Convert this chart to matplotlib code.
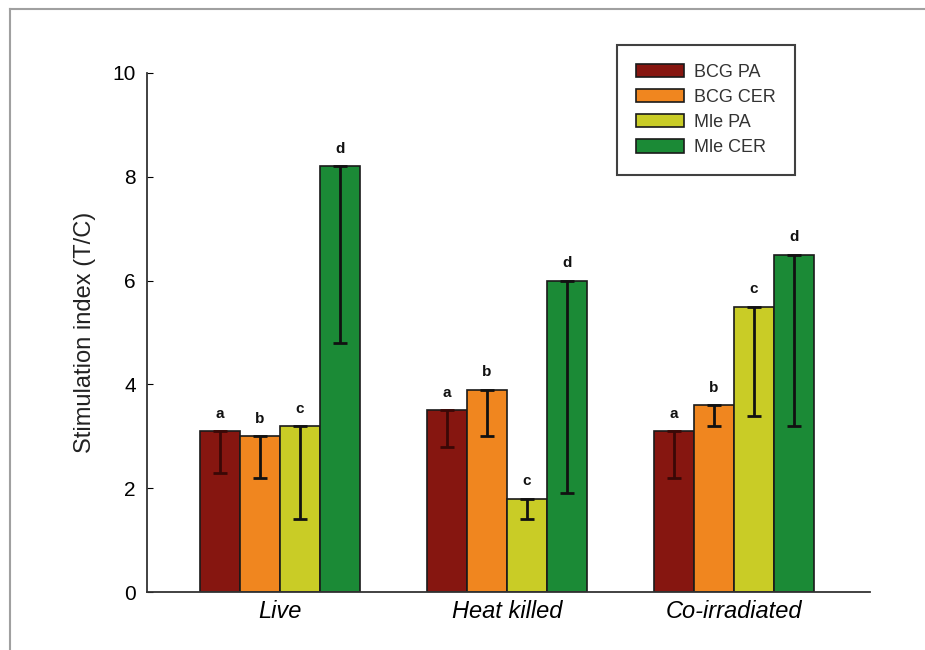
import matplotlib
matplotlib.use("Agg")
import matplotlib.pyplot as plt
import numpy as np
from matplotlib.lines import Line2D

plt.rcParams["font.family"] = ["Liberation Sans", "DejaVu Sans"]

# ── Data ──────────────────────────────────────────────────────────────────────
groups = ["Live", "Heat killed", "Co-irradiated"]
series = ["BCG PA", "BCG CER", "Mle PA", "Mle CER"]
letters = ["a", "b", "c", "d"]
colors = ["#861610", "#f0861f", "#c9cc26", "#1b8a36"]

# mean stimulation index per series, one value per group
means = {
    "BCG PA":  [3.1, 3.5, 3.1],
    "BCG CER": [3.0, 3.9, 3.6],
    "Mle PA":  [3.2, 1.8, 5.5],
    "Mle CER": [8.2, 6.0, 6.5],
}
# error bars are drawn downwards only
err_low = {
    "BCG PA":  [0.8, 0.7, 0.9],
    "BCG CER": [0.8, 0.9, 0.4],
    "Mle PA":  [1.8, 0.4, 2.1],
    "Mle CER": [3.4, 4.1, 3.3],
}

# ── Plot ──────────────────────────────────────────────────────────────────────
fig = plt.figure(figsize=(9.25, 6.5), dpi=100)
ax = fig.add_axes([0.159, 0.0892, 0.7815, 0.7985])

x = np.arange(len(groups))
width = 0.176
offsets = (np.arange(len(series)) - 1.5) * width

for i, name in enumerate(series):
    xs = x + offsets[i]
    vals = means[name]
    ax.bar(xs, vals, width, color=colors[i], edgecolor="#1a1a1a",
           linewidth=1.2, label=name, zorder=2)
    ecol = "#3a0806" if i == 0 else "#111111"
    ax.errorbar(xs, vals, yerr=[err_low[name], [0] * len(vals)], fmt="none",
                ecolor=ecol, elinewidth=2, capsize=5, capthick=2, zorder=3)
    for xi, v in zip(xs, vals):
        ax.text(xi, v + 0.2, letters[i], ha="center", va="bottom",
                fontsize=11, fontweight="bold", color="#111111")

ax.set_xlim(-0.586, 2.6)
ax.set_ylim(0, 10)
ax.set_yticks(range(0, 11, 2))
ax.set_xticks(x)
ax.set_xticklabels(groups, fontsize=17, style="italic")
ax.tick_params(axis="y", direction="in", length=4, labelsize=15, pad=8)
ax.tick_params(axis="x", length=0, pad=6)
ax.set_ylabel("Stimulation index (T/C)", fontsize=17, labelpad=12,
              color="#222222")
for side in ["top", "right"]:
    ax.spines[side].set_visible(False)
for side in ["left", "bottom"]:
    ax.spines[side].set_linewidth(1.3)
    ax.spines[side].set_color("#333333")

leg = ax.legend(loc="upper left", bbox_to_anchor=(0.650, 1.054), fontsize=13,
                frameon=True, fancybox=False, edgecolor="#111111",
                handlelength=2.67, handleheight=0.75, labelspacing=0.45,
                borderpad=1.05, handletextpad=0.55, borderaxespad=0)
leg.get_frame().set_linewidth(1.5)
for t in leg.get_texts():
    t.set_color("#333333")

# outer frame of the original figure (top and left only)
fig.add_artist(Line2D([10 / 925, 1], [1 - 9 / 650, 1 - 9 / 650],
                      color="#a0a0a0", linewidth=1.5))
fig.add_artist(Line2D([10 / 925, 10 / 925], [0, 1 - 9 / 650],
                      color="#a0a0a0", linewidth=1.5))

fig.savefig("out.png", dpi=100)
